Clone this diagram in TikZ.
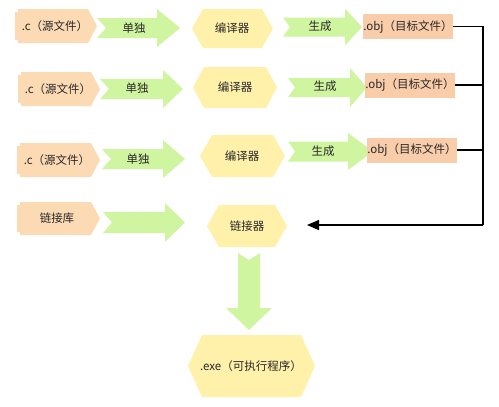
\documentclass[tikz,border=0pt]{standalone}
\usepackage{fontspec}
\setmainfont{Noto Sans CJK SC}
\usetikzlibrary{arrows.meta}

\definecolor{srcfill}{RGB}{251,218,180}
\definecolor{objfill}{RGB}{250,205,170}
\definecolor{hexfill}{RGB}{255,240,170}
\definecolor{arrfill}{RGB}{208,245,160}
\definecolor{txt}{RGB}{40,40,40}

% x0 x1 ytop ybot
\newcommand{\srcshape}[4]{%
  \fill[srcfill] ({#1+3},#3) -- ({#2-9},#3) -- (#2,{(#3+#4)/2}) -- ({#2-9},#4) -- ({#1+3},#4)
    -- ({#1+3},{#4-3}) -- (#1,{#4-3}) -- (#1,{#3+3}) -- ({#1+3},{#3+3}) -- cycle;}
% x0 x1 ytop ybot depth
\newcommand{\hexshape}[5]{%
  \fill[hexfill] (#1,{(#3+#4)/2}) -- ({#1+#5},#3) -- ({#2-#5},#3) -- (#2,{(#3+#4)/2})
    -- ({#2-#5},#4) -- ({#1+#5},#4) -- cycle;}
% x0 xhead x1 ycenter bodyhalf headhalf notch
\newcommand{\rarrow}[7]{%
  \fill[arrfill] (#1,{#4-#5}) -- (#2,{#4-#5}) -- (#2,{#4-#6}) -- (#3,#4) -- (#2,{#4+#6})
    -- (#2,{#4+#5}) -- (#1,{#4+#5}) -- ({#1+#7},#4) -- cycle;}

\begin{document}
\begin{tikzpicture}[x=1pt, y=-1pt,
    every node/.style={text=txt, font=\fontsize{11.5}{13}\selectfont, inner sep=0pt},
    objbox/.style={fill=objfill, minimum width=90pt, minimum height=25pt},
    link/.style={draw=black, line width=1.1pt}]
    \useasboundingbox (0,0) rectangle (499,407);

      % Row 1
      \srcshape{15}{97}{9}{43}
      \node (src1) at (55,26) {.c（源文件）};
      \rarrow{97}{157}{180}{28}{10}{19}{9}
      \node (arr1) at (134,28) {单独};
      \hexshape{192}{273}{9}{48}{11}
      \node (cmp1) at (232,28) {编译器};
      \rarrow{283}{345}{362}{27}{9.5}{18.5}{7}
      \node (gen1) at (320,26) {生成};
      \node[objbox] (obj1) at (408,26.5) {.obj（目标文件）};

      % Row 2
      \srcshape{18}{100}{72}{106}
      \node (src2) at (58,89) {.c（源文件）};
      \rarrow{100}{163}{183}{89}{10}{19}{9}
      \node (arr2) at (137,88) {单独};
      \hexshape{193}{277}{67}{108}{11}
      \node (cmp2) at (235,87) {编译器};
      \rarrow{288}{350}{367}{87.5}{9.5}{19.5}{7}
      \node (gen2) at (325,86) {生成};
      \node[objbox] (obj2) at (410,85) {.obj（目标文件）};

      % Row 3
      \srcshape{17}{100}{143}{177}
      \node (src3) at (57,160) {.c（源文件）};
      \rarrow{102}{163}{185}{159}{10}{19}{9}
      \node (arr3) at (138,159) {单独};
      \hexshape{200}{285}{135}{177}{12}
      \node (cmp3) at (242,156) {编译器};
      \rarrow{288}{348}{373}{151.5}{10}{18.5}{7}
      \node (gen3) at (323,151) {生成};
      \node[objbox] (obj3) at (412,150) {.obj（目标文件）};

      % Row 4
      \srcshape{17}{100}{202}{235}
      \node (lib) at (57,218.5) {链接库};
      \rarrow{103}{165}{185}{222.5}{10.5}{19.5}{9}
      \hexshape{207}{287}{205}{247}{12}
      \node (linker) at (247,226) {链接器};

      % Down to exe
      \fill[arrfill] (238,253) -- (249,260) -- (260,253) -- (260,308) -- (272,308)
        -- (249,330) -- (226,308) -- (238,308) -- cycle;
      \hexshape{188}{315}{335}{397}{14}
      \node (exe) at (251,366) {.exe（可执行程序）};

      % Bus to linker
      \coordinate (bus1) at (483,26.5);
      \coordinate (bus2) at (483,85);
      \coordinate (bus3) at (483,150);
      \coordinate (bus4) at (483,225);
      \coordinate (linkin) at (307,225);
      \draw[link] (obj1.east) -- (bus1) -- (bus4);
      \draw[link] (obj2.east) -- (bus2);
      \draw[link] (obj3.east) -- (bus3);
      \draw[link, -{Triangle[length=12pt, width=10pt]}] (bus4) -- (linkin);

\end{tikzpicture}
\end{document}
